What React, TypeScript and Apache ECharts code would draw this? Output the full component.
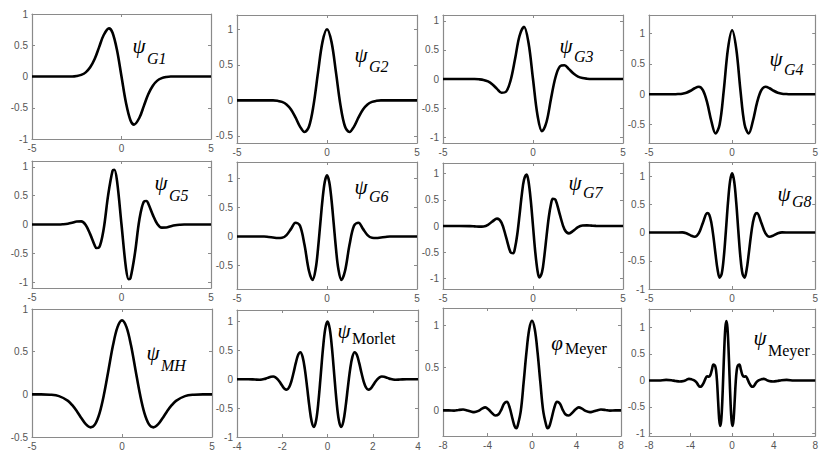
import React, { useEffect, useRef } from "react";
import * as echarts from "echarts";

// ---------- data ----------
const g1X = [-5, -2.75, -2.5, -2.25, -2, -1.75, -1.5, -1.25, -1, -0.7, -0.5, -0.25, 0, 0.25, 0.5, 0.7, 1, 1.25, 1.5, 1.75, 2, 2.25, 2.5, 2.75, 5];
const g1Y = [0, 0, 0.008, 0.026, 0.066, 0.147, 0.28, 0.47, 0.66, 0.77, 0.7, 0.42, 0, -0.42, -0.7, -0.77, -0.66, -0.47, -0.28, -0.147, -0.066, -0.026, -0.008, 0, 0];

const g2X = [-5, -3, -2.75, -2.5, -2.25, -2, -1.75, -1.5, -1.25, -1, -0.75, -0.5, -0.25, 0, 0.25, 0.5, 0.75, 1, 1.25, 1.5, 1.75, 2, 2.25, 2.5, 2.75, 3, 5];
const g2Y = [0, 0, -0.007, -0.022, -0.058, -0.128, -0.24, -0.369, -0.445, -0.368, -0.071, 0.389, 0.822, 1, 0.822, 0.389, -0.071, -0.368, -0.445, -0.369, -0.24, -0.128, -0.058, -0.022, -0.007, 0, 0];

const g3X = [-5, -3.25, -3, -2.75, -2.5, -2.25, -2, -1.75, -1.5, -1.25, -1, -0.75, -0.5, -0.25, 0, 0.25, 0.5, 0.75, 1, 1.25, 1.5, 1.75, 2, 2.25, 2.5, 2.75, 3, 3.25, 5];
const g3Y = [0, 0, -0.005, -0.016, -0.042, -0.094, -0.169, -0.236, -0.219, -0.03, 0.339, 0.739, 0.898, 0.623, 0, -0.623, -0.898, -0.739, -0.339, 0.03, 0.219, 0.236, 0.169, 0.094, 0.042, 0.016, 0.005, 0, 0];

const g4X = [-5, -3.5, -3.25, -3, -2.75, -2.5, -2.25, -2, -1.75, -1.5, -1.25, -1, -0.75, -0.5, -0.25, 0, 0.25, 0.5, 0.75, 1, 1.25, 1.5, 1.75, 2, 2.25, 2.5, 2.75, 3, 3.25, 3.5, 5];
const g4Y = [0, 0, 0.003, 0.009, 0.026, 0.057, 0.099, 0.122, 0.062, -0.138, -0.439, -0.644, -0.495, 0.068, 0.745, 1.05, 0.745, 0.068, -0.495, -0.644, -0.439, -0.138, 0.062, 0.122, 0.099, 0.057, 0.026, 0.009, 0.003, 0, 0];

const g5X = [-5, -3.5, -3.25, -3, -2.75, -2.5, -2.25, -2, -1.75, -1.5, -1.4, -1.25, -1, -0.75, -0.5, -0.4, -0.25, 0, 0.25, 0.4, 0.5, 0.75, 1, 1.25, 1.4, 1.5, 1.75, 2, 2.25, 2.5, 2.75, 3, 3.25, 3.5, 5];
const g5Y = [0, 0, 0.005, 0.014, 0.031, 0.052, 0.054, -0.009, -0.167, -0.36, -0.407, -0.397, -0.086, 0.501, 0.932, 0.948, 0.755, 0, -0.755, -0.948, -0.932, -0.501, 0.086, 0.397, 0.407, 0.36, 0.167, 0.009, -0.054, -0.052, -0.031, -0.014, -0.005, 0, 0];

const g6X = [-5, -3.5, -3.25, -3, -2.75, -2.5, -2.25, -2, -1.75, -1.5, -1.25, -1, -0.8, -0.625, -0.5, -0.375, -0.25, -0.125, 0, 0.125, 0.25, 0.375, 0.5, 0.625, 0.8, 1, 1.25, 1.5, 1.75, 2, 2.25, 2.5, 2.75, 3, 3.25, 3.5, 5];
const g6Y = [0, 0, -0.007, -0.015, -0.025, -0.021, 0.026, 0.132, 0.237, 0.185, -0.142, -0.592, -0.743, -0.544, -0.211, 0.213, 0.632, 0.938, 1.05, 0.938, 0.632, 0.213, -0.211, -0.544, -0.743, -0.592, -0.142, 0.185, 0.237, 0.132, 0.026, -0.021, -0.025, -0.015, -0.007, 0, 0];

const g7X = [-5, -3.5, -3.25, -3, -2.75, -2.5, -2.25, -2, -1.75, -1.5, -1.25, -1.1, -1, -0.875, -0.75, -0.625, -0.5, -0.35, -0.25, -0.125, 0, 0.125, 0.25, 0.35, 0.5, 0.625, 0.75, 0.875, 1, 1.1, 1.25, 1.5, 1.75, 2, 2.25, 2.5, 2.75, 3, 3.25, 3.5, 5];
const g7Y = [0, -0.003, -0.007, -0.012, -0.008, 0.023, 0.088, 0.14, 0.064, -0.207, -0.5, -0.52, -0.419, -0.162, 0.202, 0.587, 0.882, 0.98, 0.851, 0.492, 0, -0.492, -0.851, -0.98, -0.882, -0.587, -0.202, 0.162, 0.419, 0.52, 0.5, 0.207, -0.064, -0.14, -0.088, -0.023, 0.008, 0.012, 0.007, 0.003, 0];

const g8X = [-5, -3.5, -3, -2.75, -2.5, -2.25, -2, -1.75, -1.5, -1.375, -1.25, -1.125, -1, -0.875, -0.75, -0.625, -0.5, -0.375, -0.25, -0.125, 0, 0.125, 0.25, 0.375, 0.5, 0.625, 0.75, 0.875, 1, 1.125, 1.25, 1.375, 1.5, 1.75, 2, 2.25, 2.5, 2.75, 3, 3.5, 5];
const g8Y = [0, 0, 0.003, -0.014, -0.05, -0.074, -0.01, 0.18, 0.344, 0.317, 0.176, -0.073, -0.379, -0.655, -0.798, -0.73, -0.436, 0.025, 0.524, 0.907, 1.05, 0.907, 0.524, 0.025, -0.436, -0.73, -0.798, -0.655, -0.379, -0.073, 0.176, 0.317, 0.344, 0.18, -0.01, -0.074, -0.05, -0.014, 0.003, 0, 0];

const mhX = [-5, -4.5, -4, -3.5, -3, -2.75, -2.5, -2.25, -2, -1.75, -1.5, -1.25, -1, -0.75, -0.5, -0.25, 0, 0.25, 0.5, 0.75, 1, 1.25, 1.5, 1.75, 2, 2.25, 2.5, 2.75, 3, 3.5, 4, 4.5, 5];
const mhY = [0, 0, -0.004, -0.021, -0.077, -0.13, -0.2, -0.28, -0.352, -0.387, -0.352, -0.223, 0, 0.286, 0.574, 0.788, 0.867, 0.788, 0.574, 0.286, 0, -0.223, -0.352, -0.387, -0.352, -0.28, -0.2, -0.13, -0.077, -0.021, -0.004, 0, 0];

const morletX = [-4, -3.5, -3.2, -3, -2.9, -2.8, -2.7, -2.6, -2.5, -2.4, -2.3, -2.2, -2.1, -2, -1.9, -1.8, -1.7, -1.6, -1.5, -1.4, -1.3, -1.2, -1.1, -1, -0.9, -0.8, -0.7, -0.6, -0.5, -0.4, -0.3, -0.2, -0.1, 0, 0.1, 0.2, 0.3, 0.4, 0.5, 0.6, 0.7, 0.8, 0.9, 1, 1.1, 1.2, 1.3, 1.4, 1.5, 1.6, 1.7, 1.8, 1.9, 2, 2.1, 2.2, 2.3, 2.4, 2.5, 2.6, 2.7, 2.8, 2.9, 3, 3.2, 3.5, 4];
const morletY = [0, 0.001, -0.005, -0.008, -0.005, 0.003, 0.016, 0.031, 0.044, 0.047, 0.034, 0, -0.052, -0.114, -0.164, -0.18, -0.142, -0.04, 0.113, 0.283, 0.42, 0.467, 0.387, 0.172, -0.141, -0.475, -0.733, -0.827, -0.707, -0.384, 0.068, 0.53, 0.873, 1, 0.873, 0.53, 0.068, -0.384, -0.707, -0.827, -0.733, -0.475, -0.141, 0.172, 0.387, 0.467, 0.42, 0.283, 0.113, -0.04, -0.142, -0.18, -0.164, -0.114, -0.052, 0, 0.034, 0.047, 0.044, 0.031, 0.016, 0.003, -0.005, -0.008, -0.005, 0.001, 0];

const phiX = [-8, -7.5, -7, -6.6, -6.2, -5.8, -5.5, -5.2, -4.8, -4.5, -4.2, -3.9, -3.6, -3.3, -3, -2.75, -2.5, -2.25, -2, -1.75, -1.55, -1.4, -1.25, -1, -0.75, -0.5, -0.25, 0, 0.25, 0.5, 0.75, 1, 1.25, 1.4, 1.55, 1.75, 2, 2.25, 2.5, 2.75, 3, 3.3, 3.6, 3.9, 4.2, 4.5, 4.8, 5.2, 5.5, 5.8, 6.2, 6.6, 7, 7.5, 8];
const phiY = [0, 0, -0.003, 0.005, 0.01, 0, -0.012, -0.02, -0.005, 0.02, 0.035, 0.01, -0.03, -0.06, -0.045, 0.01, 0.08, 0.1, 0.03, -0.1, -0.19, -0.21, -0.16, 0, 0.33, 0.68, 0.95, 1.05, 0.95, 0.68, 0.33, 0, -0.16, -0.21, -0.19, -0.1, 0.03, 0.1, 0.08, 0.01, -0.045, -0.06, -0.03, 0.01, 0.035, 0.02, -0.005, -0.02, -0.012, 0, 0.01, 0.005, -0.003, 0, 0];

const meyerX = [-8, -7.05, -6.35, -5.85, -5.45, -5.05, -4.65, -4.4, -4.15, -3.9, -3.65, -3.45, -3.25, -3.1, -2.95, -2.75, -2.55, -2.4, -2.25, -2.1, -1.95, -1.8, -1.65, -1.55, -1.45, -1.35, -1.25, -1.15, -1.05, -0.95, -0.85, -0.75, -0.65, -0.55, -0.45, -0.35, -0.25, -0.15, -0.05, 0.05, 0.15, 0.25, 0.35, 0.45, 0.55, 0.7, 0.85, 1, 1.15, 1.3, 1.45, 1.65, 1.85, 2, 2.15, 2.35, 2.55, 2.8, 3.05, 3.3, 3.55, 3.95, 4.35, 4.75, 5.25, 5.95, 8];
const meyerY = [0, 0, 0.01, 0.005, -0.01, -0.02, -0.01, 0.01, 0.03, 0.02, 0, -0.03, -0.09, -0.12, -0.11, -0.05, 0.04, 0.08, 0.07, 0.1, 0.2, 0.3, 0.28, 0.2, -0.02, -0.38, -0.72, -0.86, -0.76, -0.42, 0.1, 0.62, 1, 1.12, 1, 0.62, 0.1, -0.42, -0.76, -0.86, -0.72, -0.38, -0.02, 0.2, 0.28, 0.3, 0.2, 0.1, 0.07, 0.08, 0.04, -0.05, -0.11, -0.12, -0.09, -0.03, 0, 0.02, 0.03, 0.01, -0.01, -0.02, -0.01, 0.005, 0.01, 0, 0];

// tick values
const ticksX5 = [-5, 0, 5];
const ticksX4 = [-4, -2, 0, 2, 4];
const ticksX8 = [-8, -4, 0, 4, 8];
const ticksY1 = [-1, -0.5, 0, 0.5, 1];
const ticksYHalf = [-0.5, 0, 0.5, 1];
const ticksYPos = [0, 0.5, 1];

// ---------- layout ----------
const PANELS = [
  { xs: g1X, ys: g1Y, box: [32, 14, 211, 139], xr: [-5, 5], yr: [-1, 1], xt: ticksX5, yt: ticksY1, sym: "ψ", sub: "G1", subItalic: true, sp: [139, 46], sb: [147, 58] },
  { xs: g2X, ys: g2Y, box: [237, 15, 417, 143], xr: [-5, 5], yr: [-0.6, 1.2], xt: ticksX5, yt: ticksYHalf, sym: "ψ", sub: "G2", subItalic: true, sp: [361, 55], sb: [369, 66] },
  { xs: g3X, ys: g3Y, box: [443, 15, 623, 143], xr: [-5, 5], yr: [-1.1, 1.1], xt: ticksX5, yt: ticksY1, sym: "ψ", sub: "G3", subItalic: true, sp: [566, 46], sb: [574, 56] },
  { xs: g4X, ys: g4Y, box: [649, 15, 828, 143], xr: [-5, 5], yr: [-0.8, 1.3], xt: ticksX5, yt: ticksYHalf, sym: "ψ", sub: "G4", subItalic: true, sp: [776, 59], sb: [784, 69] },
  { xs: g5X, ys: g5Y, box: [32, 161, 211, 288], xr: [-5, 5], yr: [-1.1, 1.1], xt: ticksX5, yt: ticksY1, sym: "ψ", sub: "G5", subItalic: true, sp: [161, 183], sb: [169, 195] },
  { xs: g6X, ys: g6Y, box: [237, 162, 417, 289], xr: [-5, 5], yr: [-0.9, 1.28], xt: ticksX5, yt: ticksYHalf, sym: "ψ", sub: "G6", subItalic: true, sp: [361, 187], sb: [369, 196] },
  { xs: g7X, ys: g7Y, box: [443, 163, 623, 289], xr: [-5, 5], yr: [-1.2, 1.2], xt: ticksX5, yt: ticksY1, sym: "ψ", sub: "G7", subItalic: true, sp: [575, 183], sb: [583, 192] },
  { xs: g8X, ys: g8Y, box: [649, 162, 828, 289], xr: [-5, 5], yr: [-1, 1.25], xt: ticksX5, yt: ticksY1, sym: "ψ", sub: "G8", subItalic: true, sp: [784, 194], sb: [792, 201] },
  { xs: mhX, ys: mhY, box: [32, 309, 212, 437], xr: [-5, 5], yr: [-0.5, 1], xt: ticksX5, yt: ticksYHalf, sym: "ψ", sub: "MH", subItalic: true, sp: [153, 353], sb: [161, 365] },
  { xs: morletX, ys: morletY, box: [237, 310, 418, 437], xr: [-4, 4], yr: [-1, 1.2], xt: ticksX4, yt: ticksY1, sym: "ψ", sub: "Morlet", subItalic: false, sp: [344, 331], sb: [352, 338] },
  { xs: phiX, ys: phiY, box: [443, 308, 621, 436], xr: [-8, 8], yr: [-0.3, 1.2], xt: ticksX8, yt: ticksYPos, sym: "φ", sub: "Meyer", subItalic: false, sp: [557, 343], sb: [565, 348] },
  { xs: meyerX, ys: meyerY, box: [649, 309, 829, 436], xr: [-8, 8], yr: [-1.05, 1.35], xt: ticksX8, yt: ticksY1, sym: "ψ", sub: "Meyer", subItalic: false, sp: [760, 338], sb: [768, 350] },
];

const BOX = "#8a8a8a";
const LBL = "#555";
const SANS = '"Liberation Sans", Arial, sans-serif';
const SERIF = '"Liberation Serif", "Times New Roman", serif';

export default function App() {
  const ref = useRef<HTMLDivElement>(null);
  useEffect(() => {
    if (!ref.current) return;
    const chart = echarts.init(ref.current, null, { renderer: "svg" });
    const grid: any[] = [];
    const xAxis: any[] = [];
    const yAxis: any[] = [];
    const series: any[] = [];
    const graphic: any[] = [];
    PANELS.forEach((p, i) => {
      const [l, t, r, b] = p.box;
      grid.push({ left: l, top: t, width: r - l, height: b - t, containLabel: false });
      const line = { show: true, onZero: false, lineStyle: { color: BOX, width: 1.2 } };
      const tick = (vals: number[]) => ({ show: true, inside: true, length: 3, customValues: vals, lineStyle: { color: BOX, width: 1 } });
      const lab = (vals: number[]) => ({
        show: true,
        customValues: vals,
        color: LBL,
        fontSize: 10,
        fontFamily: SANS,
        margin: 4,
      });
      xAxis.push({ type: "value", gridIndex: i, position: "bottom", min: p.xr[0], max: p.xr[1], axisLine: line, axisTick: tick(p.xt), axisLabel: lab(p.xt), splitLine: { show: false } });
      xAxis.push({ type: "value", gridIndex: i, position: "top", min: p.xr[0], max: p.xr[1], axisLine: line, axisTick: tick(p.xt), axisLabel: { show: false }, splitLine: { show: false } });
      yAxis.push({ type: "value", gridIndex: i, position: "left", min: p.yr[0], max: p.yr[1], axisLine: line, axisTick: tick(p.yt), axisLabel: lab(p.yt), splitLine: { show: false } });
      yAxis.push({ type: "value", gridIndex: i, position: "right", min: p.yr[0], max: p.yr[1], axisLine: line, axisTick: tick(p.yt), axisLabel: { show: false }, splitLine: { show: false } });
      series.push({
        type: "line",
        xAxisIndex: 2 * i,
        yAxisIndex: 2 * i,
        data: p.xs.map((x, k) => [x, p.ys[k]]),
        showSymbol: false,
        symbol: "none",
        smooth: 0.35,
        clip: true,
        lineStyle: { color: "#000", width: 2.6 },
      });
      graphic.push({
        type: "text",
        x: p.sp[0],
        y: p.sp[1],
        style: { text: p.sym, font: `italic 21px ${SERIF}`, fill: "#000", align: "center", verticalAlign: "middle" },
      });
      graphic.push({
        type: "text",
        x: p.sb[0],
        y: p.sb[1],
        style: { text: p.sub, font: `${p.subItalic ? "italic " : ""}16px ${SERIF}`, fill: "#000", align: "left", verticalAlign: "middle" },
      });
    });
    chart.setOption({ animation: false, backgroundColor: "#fff", grid, xAxis, yAxis, series, graphic });
    return () => chart.dispose();
  }, []);
  return <div ref={ref} style={{ position: "absolute", left: 0, top: 0, width: 821, height: 452, overflow: "hidden", background: "#fff" }} />;
}
